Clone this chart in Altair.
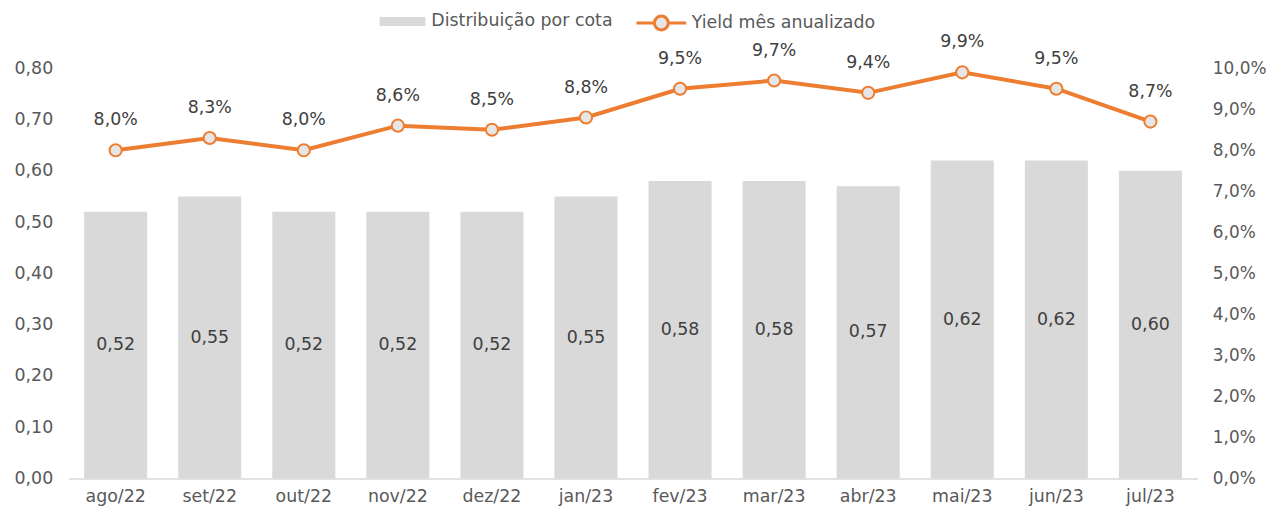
import altair as alt
import pandas as pd

months = ["ago/22", "set/22", "out/22", "nov/22", "dez/22", "jan/23",
          "fev/23", "mar/23", "abr/23", "mai/23", "jun/23", "jul/23"]
dist = [0.52, 0.55, 0.52, 0.52, 0.52, 0.55, 0.58, 0.58, 0.57, 0.62, 0.62, 0.60]
yield_pct = [8.0, 8.3, 8.0, 8.6, 8.5, 8.8, 9.5, 9.7, 9.4, 9.9, 9.5, 8.7]

S1 = "Distribuição por cota"
S2 = "Yield mês anualizado"

df = pd.DataFrame({"month": months, "dist": dist, "yld": yield_pct})

FONT = "DejaVu Sans"
FS = 17.5
TXT = "#595959"
VAL = "#404040"
ORANGE = "#ED7D31"
GRAY = "#D9D9D9"

x = alt.X("month:N", sort=months, title=None,
          scale=alt.Scale(paddingInner=0.33, paddingOuter=0.165),
          axis=alt.Axis(labelAngle=0, ticks=False, domain=True, domainColor="#D9D9D9",
                        domainWidth=1.5, labelPadding=9, labelFontSize=FS,
                        labelColor=TXT, labelFont=FONT))

lscale = alt.Scale(domain=[0, 0.8], nice=False)
rscale = alt.Scale(domain=[0, 10], nice=False)

laxis = alt.Axis(values=[0, 0.1, 0.2, 0.3, 0.4, 0.5, 0.6, 0.7, 0.8],
                 labelExpr="replace(format(datum.value, '.2f'), '.', ',')",
                 grid=False, ticks=False, domain=False, labelPadding=16,
                 labelFontSize=FS, labelColor=TXT, labelFont=FONT, title=None)
raxis = alt.Axis(orient="right", values=list(range(0, 11)),
                 labelExpr="replace(format(datum.value, '.1f'), '.', ',') + '%'",
                 grid=False, ticks=False, domain=False, labelPadding=15,
                 labelFontSize=17, labelColor=TXT, labelFont=FONT, title=None)

line_path = "M-1,0H-0.28M0.28,0H1M0.28,0A0.28,0.28 0 1 1 -0.28,0A0.28,0.28 0 1 1 0.28,0Z"
rect_path = "M-0.92,-0.18H0.92V0.18H-0.92Z"

legend1 = alt.Legend(
    title=None, orient="none", direction="horizontal",
    legendX=311, legendY=-72, symbolType=rect_path,
    symbolSize=2500, labelFontSize=FS, labelColor=TXT, labelFont=FONT,
    labelOffset=4, labelLimit=400, symbolStrokeWidth=0, symbolOpacity=1,
)
legend2 = alt.Legend(
    title=None, orient="none", direction="horizontal",
    legendX=570, legendY=-72, symbolType=line_path,
    symbolSize=2500, labelFontSize=FS, labelColor=TXT, labelFont=FONT,
    labelOffset=4, labelLimit=400, symbolStrokeWidth=3, symbolFillColor="#E6E6E6",
    symbolOpacity=1,
)

base = alt.Chart(df)

bars = base.transform_calculate(series=f"'{S1}'").mark_bar().encode(
    x=x,
    y=alt.Y("dist:Q", scale=lscale, title=None, axis=laxis),
    fill=alt.Fill("series:N", scale=alt.Scale(domain=[S1], range=[GRAY]), legend=legend1),
)

bar_text = base.transform_calculate(
    mid="datum.dist / 2",
    lbl="replace(format(datum.dist, '.2f'), '.', ',')",
).mark_text(fontSize=FS, color=VAL, font=FONT, baseline="middle").encode(
    x=alt.X("month:N", sort=months),
    y=alt.Y("mid:Q", scale=lscale, title=None, axis=laxis),
    text="lbl:N",
)

line = base.transform_calculate(series=f"'{S2}'").mark_line(strokeWidth=4).encode(
    x=alt.X("month:N", sort=months),
    y=alt.Y("yld:Q", scale=rscale, title=None, axis=raxis),
    stroke=alt.Stroke("series:N", scale=alt.Scale(domain=[S2], range=[ORANGE]), legend=legend2),
)

points = base.mark_point(filled=True, fill="#E6E6E6", stroke=ORANGE, strokeWidth=2,
                         size=150, opacity=1, shape="circle").encode(
    x=alt.X("month:N", sort=months),
    y=alt.Y("yld:Q", scale=rscale, title=None, axis=raxis),
)

line_text = base.transform_calculate(
    lbl="replace(format(datum.yld, '.1f'), '.', ',') + '%'"
).mark_text(fontSize=FS, color=VAL, font=FONT, dy=-30, baseline="middle").encode(
    x=alt.X("month:N", sort=months),
    y=alt.Y("yld:Q", scale=rscale, title=None, axis=raxis),
    text="lbl:N",
)

chart = alt.layer(
    alt.layer(bars, bar_text),
    alt.layer(line, points, line_text),
).resolve_scale(y="independent").properties(
    width=1136, height=413,
    autosize=alt.AutoSizeParams(type="none"),
    padding={"left": 61, "top": 59, "right": 71, "bottom": 30},
).configure(font=FONT).configure_view(strokeWidth=0, stroke=None).configure_axisY(
    domain=False, ticks=False, grid=False
)

chart.save("out.html", embed_options={"renderer": "svg", "actions": False})
